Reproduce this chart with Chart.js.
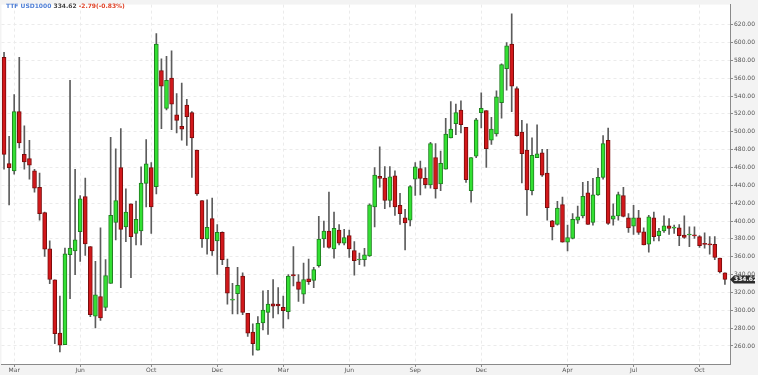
<!DOCTYPE html>
<html>
<head>
<meta charset="utf-8">
<title>TTF USD1000</title>
<script src="https://cdn.jsdelivr.net/npm/chart.js@4.4.1/dist/chart.umd.min.js"></script>
<style>
  html, body { margin: 0; padding: 0; background: #f3f3f3; }
  #wrap { position: relative; width: 758px; height: 375px; }
  #title {
    position: absolute; left: 6px; top: 2px;
    font: bold 6px "DejaVu Sans", sans-serif; line-height: 7px;
    white-space: nowrap;
  }
  #title .sym { color: #4f7fd6; }
  #title .px { color: #444; }
  #title .chg { color: #e0452a; }
</style>
</head>
<body>
<div id="wrap">
  <canvas id="chart" width="758" height="375"></canvas>
  <div id="title"><span class="sym">TTF USD1000</span> <span class="px">334.62</span> <span class="chg">-2.79(-0.83%)</span></div>
</div>
<script>
// weekly candles
const opens = [583.5,464.3,456.2,522.6,474.7,469.9,456.2,437.8,409.4,368.8,334.2,274.4,261.5,362.2,366.6,388,427.5,371.4,293.3,315.4,
  303.3,330.1,398.4,459.9,393.5,419.4,386.2,388.8,442.2,459.9,438.5,568.7,526.3,560.2,518.9,506,530,521.5,479.5,423,
  379.9,402.8,377.7,387.3,348.2,311.3,318.7,338.2,296.6,275.5,255.3,285.9,297.7,307.2,306.9,303.3,298.4,340,332,318,
  335.3,333.4,350,379.9,388.8,368.8,389.9,375.1,383.6,367,356.3,356.6,361,415.7,450,448.1,423,450.7,417.5,403.5,
  400.9,447,458.8,447.7,440.4,471,441.5,458.1,493.1,509,524.4,504.9,434.1,472.8,521.5,523.7,490.5,497.5,532.6,570.6,
  598.2,548.4,499.7,479.5,434.1,471,476.5,453.6,400.2,396.1,418.3,376.2,380.6,400.9,405.7,431.5,398.3,429.3,448.9,490.5,
  402,405.7,428.6,403.5,394.3,403.5,388,374,403.5,383.6,388.8,394.6,392,392.4,384.3,384.3,383.6,382.5,374,373.3,
  374,358.5,341.9];
const highs = [589,495,541.8,583.5,506.8,490.5,458,453.6,410,377.7,334.2,316,369.6,557.6,458,428.6,448,371.4,354.8,392.5,
  356.7,493.9,481,503.5,436,419.4,422.3,460.7,491.3,465.4,610,581.6,584.6,590.8,542.9,554.7,536.3,522.6,479.5,423,
  423.8,425.6,396.1,388,357.4,330.1,348.2,341.9,296.6,284.8,292.9,321.7,322.4,334.5,325.3,316,340,371.4,340,353,
  357.4,348.2,405.4,399.8,432.3,410.1,396.1,390.6,389.9,377,364,369.5,419.4,459.9,483.1,461,461,456.2,431.1,413.1,
  439.6,465.4,467.3,459.9,488.3,486.8,478.4,515.2,533.7,531.1,534.8,504.9,471,515.2,543.6,523.7,516.3,545.8,576.1,600,
  632.1,550.3,512.7,508.9,493.1,507.9,480.2,480.2,400.9,422,426.7,395.4,408.3,416.8,443.3,444.4,447.7,459.1,495.7,504.2,
  419.4,432.3,437.8,408.3,417.5,412,392.4,406.4,410.1,391.7,405.7,402.8,395.4,396.1,405.7,393.5,393.5,383.6,386.9,382.5,
  382.5,358.5,341.9];
const lows = [458,418,452.6,482,458,447,432.3,400.9,360.4,329.8,262.7,253.4,261.5,313,340,354.8,361.5,292.9,280.3,288.5,
  299.5,330.1,378.8,325.3,377,336.4,373.3,373.3,415.7,386.2,430.4,503.5,524.5,502.3,498.6,490.5,484.6,448.9,428.6,370.3,
  363,361.5,340.1,351.2,306.9,295.8,295.8,295.1,270.8,249.7,255.3,278.1,272.9,291.4,295.8,280,290.3,327.2,309.9,307.6,
  329,325.3,348.2,370.3,369.6,358.5,373.3,373.3,359.3,339.4,351.2,349.3,360.3,393.5,437.8,413.8,415.7,406.4,396.1,367.7,
  394.6,428.6,429.3,436.7,436.7,425.6,434.1,458.1,493.1,496.8,498.6,443.3,421.2,471,504.2,460,485.7,495,515.2,546.6,
  522.6,495,442.6,406.4,429.3,471,450,400.9,378.8,395.4,376.2,366.6,379.9,397.2,403.5,396.1,395.4,428.6,447,396.1,
  395.4,400.9,404.6,387.3,385,385,373.3,365.2,377.7,377.7,387.3,385,386.2,372.5,380.6,371.4,380.6,370.3,369.6,362.9,
  356.7,341.9,329];
const closes = [474.7,459.9,522.6,487.6,466.2,462.5,436.7,408.3,368.5,334.5,273.7,260.8,363.3,369.6,378.8,424.9,374.4,295.1,317.2,291.4,
  339,406.5,423,390.6,410.1,382.5,402,442.6,464,415.7,598.2,551,557.7,531,512.7,503,517,493.1,430.4,379.9,
  392.8,366.6,387.3,356.7,319.1,311.3,327.9,297.7,274.4,262.7,285.5,300.3,306.9,304.7,305,299.5,338.2,338.5,323.5,334.5,
  332,345.6,379.9,388.8,370.3,391.7,375.1,381.4,368.8,355.6,356.3,362.2,418.2,451.4,447.7,423,449.6,415.7,408.3,398,
  438.5,460.6,447.7,440.7,486.8,436,464.7,497.5,503,521.5,507.9,446.3,471,513.4,526.3,481,503,539.2,575.4,596.4,
  551,495.7,475.4,434.8,473.6,475.4,451.4,415,393.5,414.6,376.2,381.4,402,404.6,427.8,396.1,429.3,448.9,486.8,397.2,
  405.7,429.7,405.3,392.4,403.5,387.3,373.3,404.6,382.5,388.8,394.6,391.7,393,383.6,381.7,384.5,383.4,372.5,373.9,373.2,
  359.3,343,334.62];

const tickIdx = [2, 15, 29, 42, 55, 68, 81, 94, 111, 124, 137];
const tickText = ["Mar", "Jun", "Oct", "Dec", "Mar", "Jun", "Sep", "Dec", "Apr", "Jul", "Oct"];
const yTicks = [260, 280, 300, 320, 340, 360, 380, 400, 420, 440, 460, 480, 500, 520, 540, 560, 580, 600, 620];
const lastPrice = 334.62;

const UP = "#33e033", UP_EDGE = "#1f7f1f";
const DOWN = "#d2181b", DOWN_EDGE = "#7a0c0c";
const idx = opens.map((_, i) => i);
const isUp = i => closes[i] >= opens[i];

// fond gris autour, zone de tracé blanche
const bgPlugin = {
  id: "bg",
  beforeDraw(chart) {
    const { ctx, chartArea: a } = chart;
    ctx.save();
    ctx.fillStyle = "#f3f3f3";
    ctx.fillRect(0, 0, chart.width, chart.height);
    ctx.fillStyle = "#ffffff";
    ctx.fillRect(a.left, a.top, a.right - a.left, a.bottom - a.top);
    ctx.restore();
  },
};

// étiquette du dernier cours sur l'axe de droite
const priceTag = {
  id: "priceTag",
  afterDraw(chart) {
    const { ctx, chartArea: a } = chart;
    const y = chart.scales.y.getPixelForValue(lastPrice);
    ctx.save();
    ctx.fillStyle = "#2b2b2b";
    ctx.beginPath();
    ctx.moveTo(a.right, y);
    ctx.lineTo(a.right + 4, y - 4);
    ctx.lineTo(a.right + 25, y - 4);
    ctx.lineTo(a.right + 25, y + 4);
    ctx.lineTo(a.right + 4, y + 4);
    ctx.closePath();
    ctx.fill();
    ctx.fillStyle = "#ffffff";
    ctx.font = "bold 6px 'DejaVu Sans'";
    ctx.textAlign = "left";
    ctx.textBaseline = "middle";
    ctx.fillText(lastPrice.toFixed(2), a.right + 4, y + 0.5);
    ctx.restore();
  },
};

const axisFont = { family: "DejaVu Sans", size: 6 };

new Chart(document.getElementById("chart"), {
  type: "bar",
  data: {
    datasets: [
      {
        label: "body",
        data: idx.map(i => ({ x: i, y: [opens[i], closes[i]] })),
        backgroundColor: idx.map(i => (isUp(i) ? UP : DOWN)),
        borderColor: idx.map(i => (isUp(i) ? UP_EDGE : DOWN_EDGE)),
        borderWidth: 1,
        borderSkipped: false,
        barThickness: 4,
        minBarLength: 1,
        grouped: false,
        order: 0,
      },
      {
        label: "wick",
        data: idx.map(i => ({ x: i, y: [lows[i], highs[i]] })),
        backgroundColor: "#5c5c5c",
        barThickness: 1,
        grouped: false,
        order: 1,
      },
    ],
  },
  options: {
    responsive: false,
    devicePixelRatio: 1,
    animation: false,
    layout: { padding: { left: 1.5, top: 0, right: 0, bottom: 0 } },
    plugins: { legend: { display: false }, tooltip: { enabled: false } },
    scales: {
      x: {
        type: "linear",
        min: -0.5,
        max: 143,
        offset: false,
        afterBuildTicks: s => { s.ticks = tickIdx.map(v => ({ value: v })); },
        afterFit: s => { s.height = 11; },
        grid: { offset: false, color: "#ebebeb", tickColor: "#8a8a8a", tickLength: 3 },
        border: { color: "#8a8a8a", dash: [3, 3] },
        ticks: {
          autoSkip: false,
          maxRotation: 0,
          padding: 0,
          font: axisFont,
          color: "#555",
          callback: v => tickText[tickIdx.indexOf(v)] ?? "",
        },
      },
      y: {
        position: "right",
        min: 239.8,
        max: 642.5,
        afterBuildTicks: s => { s.ticks = yTicks.map(v => ({ value: v })); },
        afterFit: s => { s.width = 28; },
        grid: { color: "#ebebeb", tickColor: "#8a8a8a", tickLength: 3 },
        border: { color: "#8a8a8a", dash: [3, 3] },
        ticks: { padding: 1, font: axisFont, color: "#555", callback: v => v.toFixed(2) },
      },
    },
  },
  plugins: [bgPlugin, priceTag],
});
</script>
</body>
</html>
